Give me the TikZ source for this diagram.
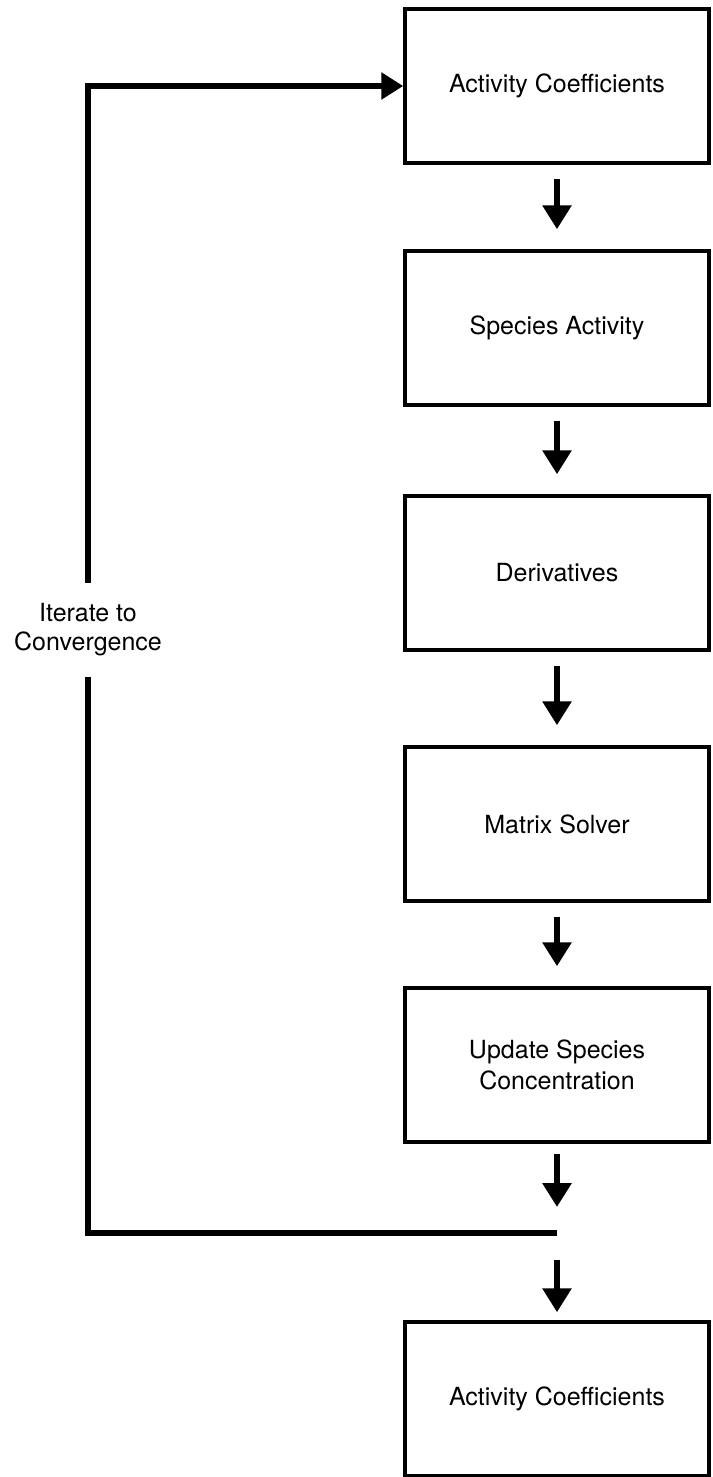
\documentclass[tikz,border=0pt]{standalone}
\usepackage{fontspec}
\setmainfont{TeX Gyre Heros}
\usetikzlibrary{arrows.meta}

\begin{document}
\begin{tikzpicture}[x=1pt, y=-1pt,
    box/.style={draw, line width=3.5pt, minimum width=304pt, minimum height=154pt,
        align=center, font=\fontsize{25}{31}\selectfont},
    flow/.style={line width=6pt, -{Triangle[length=24pt, width=28pt]},
        shorten <=14pt, shorten >=20pt},
    back/.style={line width=6pt}]
            \useasboundingbox (0, 0) rectangle (712, 1477);

            \node[box] (coef) at (557, 86) {Activity Coefficients};
            \node[box] (spec) at (557, 328) {Species Activity};
            \node[box] (deriv) at (557, 573) {Derivatives};
            \node[box] (solver) at (557, 824) {Matrix Solver};
            \node[box] (update) at (557, 1065) {Update Species\\Concentration};
            \node[box] (coefout) at (557, 1399) {Activity Coefficients};

            \node[align=center, minimum height=94pt, font=\fontsize{25}{29}\selectfont]
                (iter) at (88, 630) {Iterate to\\Convergence};

            \path (557, 1233) coordinate (J);

            \draw[flow] (coef) -- (spec);
            \draw[flow] (spec) -- (deriv);
            \draw[flow] (deriv) -- (solver);
            \draw[flow] (solver) -- (update);
            \draw[flow, shorten <=10pt, shorten >=26pt] (update) -- (J);
            \draw[flow, shorten <=27pt, shorten >=8pt] (J) -- (coefout);

            \draw[back] (J) -| (iter.south);
            \draw[back, -{Triangle[length=22pt, width=26pt]}] (iter.north) |- (coef.west);
        \end{tikzpicture}
\end{document}
